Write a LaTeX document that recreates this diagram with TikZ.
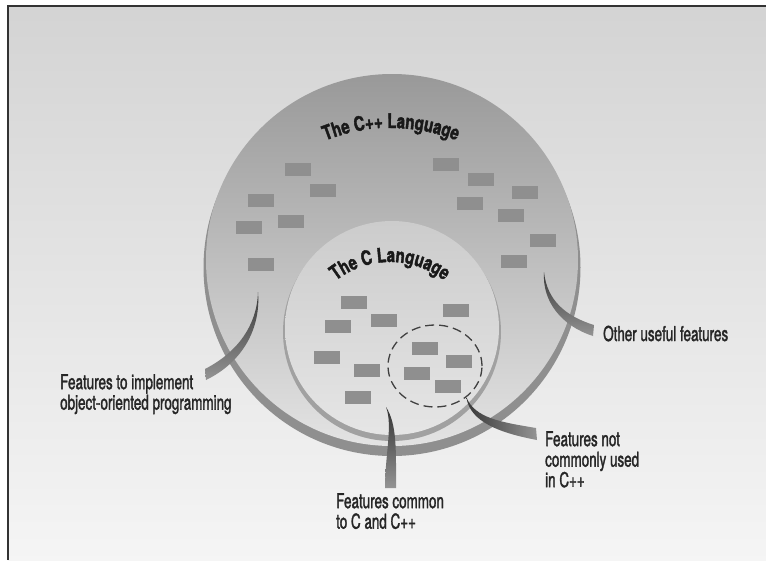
\documentclass[tikz,border=0pt]{standalone}
\usepackage{fontspec}
\usetikzlibrary{decorations.text,shapes.geometric}
\newfontfamily\lblfont{TeX Gyre Heros}[FakeStretch=0.655,FakeBold=1.5]
\newfontfamily\ttlfont{TeX Gyre Heros}[FakeStretch=0.75,FakeBold=2]
\newcommand\ttlstyle{\ttlfont\bfseries\fontsize{20}{21}\selectfont}
\begin{document}
\begin{tikzpicture}[x=1pt,y=-1pt,
  feat/.style={fill=black!44, minimum width=26pt, minimum height=13pt, inner sep=0pt, outer sep=0pt},
  lbl/.style={font=\lblfont\fontsize{20.5}{20.5}\selectfont, text=black!85, align=left, inner sep=0pt},
  swoosh/.style={draw=none},
  ]
\useasboundingbox (0,0) rectangle (766,560);
% background
\fill[white] (0,0) rectangle (766,560);
\shade[top color=black!17, bottom color=black!4] (8,6) rectangle (766,560);
\draw[black!80, line width=1.2pt] (8,560) -- (8,6) -- (766,6);
% outer disc (C++)
\fill[black!44] (392,267.5) circle[radius=188.5];
\shade[top color=black!40, middle color=black!21, bottom color=black!11] (392,260) circle[radius=186];
% C++-only features
\node[feat] (r1) at (298,169) {};
\node[feat] (r2) at (323,190) {};
\node[feat] (r3) at (261,200) {};
\node[feat] (r4) at (291,221) {};
\node[feat] (r5) at (249,227) {};
\node[feat] (r6) at (261,264) {};
\node[feat] (r7) at (446,164) {};
\node[feat] (r8) at (481,179) {};
\node[feat] (r9) at (525,192) {};
\node[feat] (r10) at (470,203) {};
\node[feat] (r11) at (511,215) {};
\node[feat] (r12) at (543,240) {};
\node[feat] (r13) at (514,261) {};
% inner disc (C)
\fill[black!37] (392,332) circle[radius=109];
\shade[top color=black!20, middle color=black!9, bottom color=black!10] (392,328) circle[radius=107];
\node[feat] (c1) at (354,302) {};
\node[feat] (c2) at (384,320) {};
\node[feat] (c3) at (338,326) {};
\node[feat] (c4) at (456,310) {};
\node[feat] (c5) at (327,357) {};
\node[feat] (c6) at (367,370) {};
\node[feat] (c7) at (358,397) {};
\node[feat] (c8) at (425,348) {};
\node[feat] (c9) at (459,361) {};
\node[feat] (c10) at (417,373) {};
\node[feat] (c11) at (448,386) {};
% dashed group
\node[draw=black!75, dash pattern=on 9pt off 5pt, line width=1.3pt, ellipse,
      minimum width=94pt, minimum height=82pt, inner sep=0pt] (rare) at (435,366) {};
% titles
\path[decorate, decoration={text along path, text align=center, text color=black!90,
  text={|\ttlstyle|The C++ Language}}]
  (391,305) ++(225:177) arc[start angle=225, end angle=315, radius=177];
\path[decorate, decoration={text along path, text align=center, text color=black!90,
  text={|\ttlstyle|The C Language}}]
  (390,350) ++(200:88) arc[start angle=200, end angle=340, radius=88];
% connector anchors
\coordinate (a0) at (258,292); \coordinate (a1) at (205,369); \coordinate (a2) at (206,380);
\coordinate (b0) at (544,272); \coordinate (b1) at (594,325); \coordinate (b2) at (593,336);
\coordinate (k0) at (386,407); \coordinate (k1) at (385,488); \coordinate (k2) at (396,488);
\coordinate (d0) at (rare.-45); \coordinate (d1) at (536,428); \coordinate (d2) at (537,440);
% connectors
\shade[swoosh, top color=black!78, bottom color=black!42]
  (a0) .. controls (257,325) and (238,352) .. (a1) -- (a2) .. controls (243,362) and (261,328) .. (a0) -- cycle;
\shade[swoosh, top color=black!78, bottom color=black!42]
  (b0) .. controls (547,300) and (565,316) .. (b1) -- (b2) .. controls (562,326) and (542,302) .. (b0) -- cycle;
\shade[swoosh, top color=black!80, bottom color=black!42]
  (k0) .. controls (393,425) and (385,455) .. (k1) -- (k2) .. controls (396,450) and (397,424) .. (k0) -- cycle;
\shade[swoosh, left color=black!78, right color=black!42]
  (d0) .. controls (475,418) and (500,422) .. (d1) -- (d2) .. controls (500,433) and (470,422) .. (d0) -- cycle;
% labels
\node[lbl, anchor=north west] (lA) at (60,374) {Features to implement\\object-oriented programming};
\node[lbl, anchor=base west] (lB) at (603,341) {Other useful features};
\node[lbl, anchor=north west] (lD) at (545,431) {Features not\\commonly used\\in C++};
\node[lbl, anchor=north west] (lC) at (336,493) {Features common\\to C and C++};
\end{tikzpicture}
\end{document}
